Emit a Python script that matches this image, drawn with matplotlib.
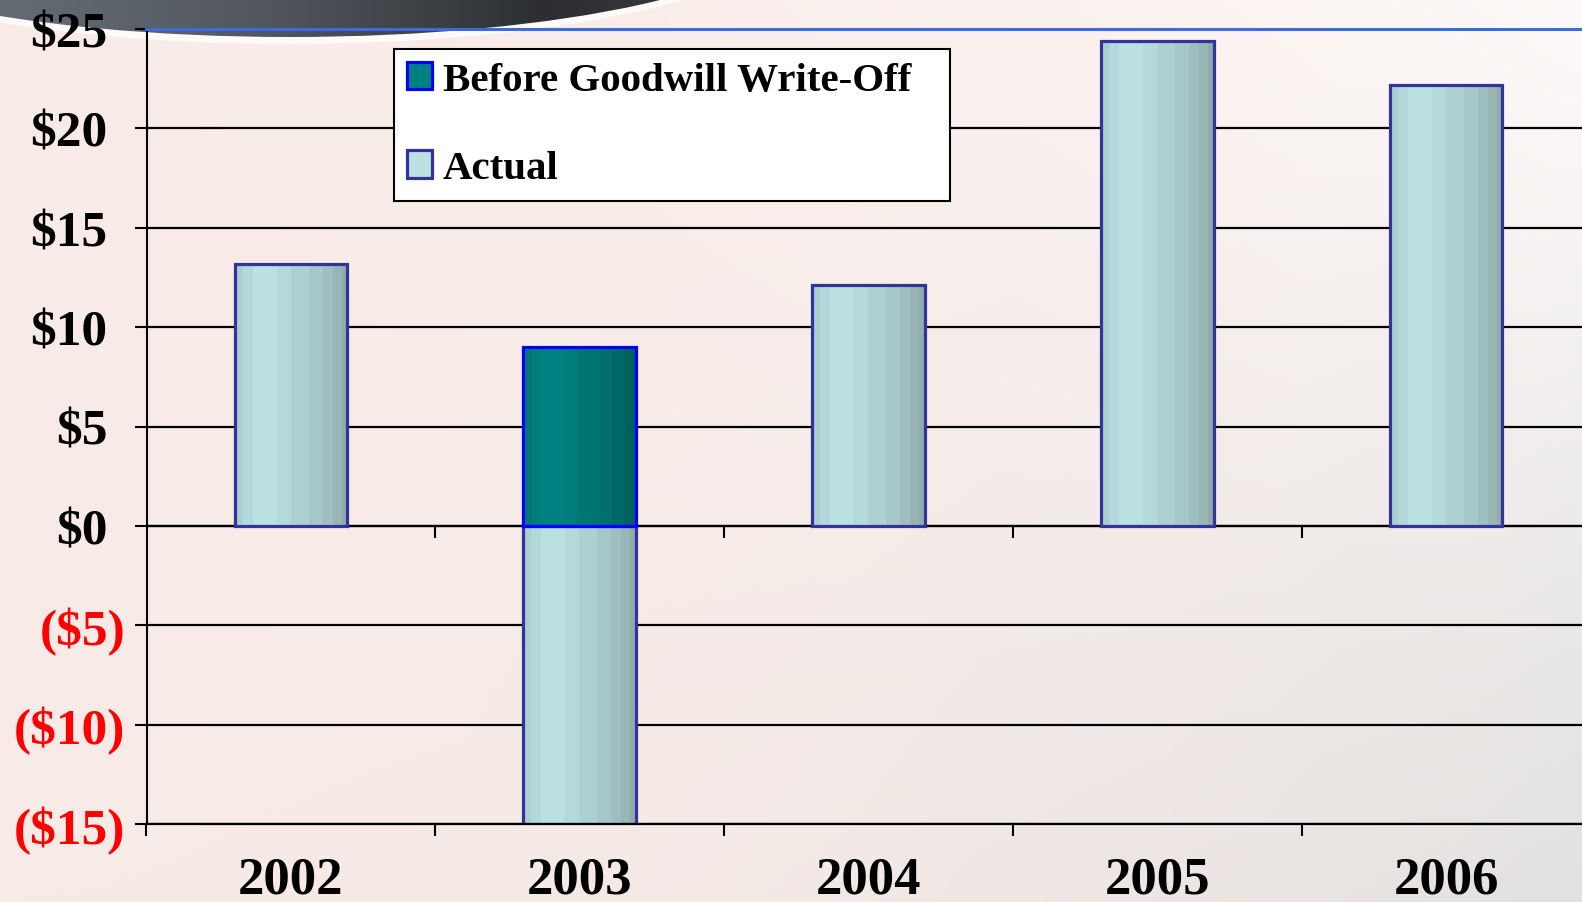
import numpy as np
import matplotlib
matplotlib.use("Agg")
import matplotlib.pyplot as plt
from matplotlib.patches import Ellipse, Patch
from matplotlib.colors import to_rgb
from matplotlib.font_manager import FontProperties
from matplotlib.transforms import ScaledTranslation

# ---------------- data ----------------
years = ["2002", "2003", "2004", "2005", "2006"]
actual = [13.2, -15.0, 12.1, 24.4, 22.2]
before_years = ["2003"]
before_values = [9.0]
y_ticks = [-15, -10, -5, 0, 5, 10, 15, 20, 25]
y_tick_labels = ["($15)", "($10)", "($5)", "$0", "$5", "$10", "$15", "$20", "$25"]
series_labels = ["Before Goodwill Write-Off", "Actual"]

# ---------------- style ----------------
W, H = 1582, 903
SERIF = "Liberation Serif"
actual_stripes = ["#AACFD1", "#B2D8DA", "#BBE0E2", "#B4D9DB", "#ADD0D2",
                  "#A6C7C9", "#9FBEC0", "#98B5B6", "#90ACAD"]
actual_widths = [8, 10, 24, 14, 18, 14, 10, 9, 6]
teal_stripes = ["#007775", "#007C7A", "#008080", "#007C7A", "#007674",
                "#006F6D", "#006866", "#00605E"]
teal_widths = [9, 8, 25, 13, 20, 13, 12, 12]


def stripe_img(colors, widths):
    cols = np.array([to_rgb(c) for c in colors])
    return np.repeat(cols, widths, axis=0)[np.newaxis, :, :]


fig = plt.figure(figsize=(W / 100, H / 100), dpi=100)

# ---------------- background ----------------
bg = fig.add_axes([0, 0, 1, 1], zorder=-10)
ny, nx = 120, 200
u = np.linspace(0, 1, nx)[np.newaxis, :, np.newaxis] ** 2.2
v = np.linspace(0, 1, ny)[:, np.newaxis, np.newaxis]
tl, tr = np.array(to_rgb("#F9ECE8")), np.array(to_rgb("#FDFAF9"))
bl, br = np.array(to_rgb("#F8EBE7")), np.array(to_rgb("#E2E1E0"))
grad = (1 - v) * ((1 - u) * tl + u * tr) + v * ((1 - u) * bl + u * br)
bg.imshow(grad, extent=(0, W, H, 0), aspect="auto", interpolation="bilinear",
          zorder=0)

# dark swoosh at top-left
glow = Ellipse((290, -75), 1014, 240, facecolor="white", alpha=0.75,
               edgecolor="none", zorder=1)
bg.add_patch(glow)
dark = Ellipse((290, -75), 1000, 226, facecolor="none", edgecolor="none",
               zorder=1)
bg.add_patch(dark)
sw_cols = np.array([to_rgb(c) for c in
                    ["#646B73", "#5B6269", "#51565C", "#404449", "#2C2E31", "#36383C"]])
xs = np.linspace(0, 1, 300)
pos = np.linspace(0, 1, len(sw_cols))
sw = np.stack([np.interp(xs, pos, sw_cols[:, k]) for k in range(3)], axis=-1)
sw_img = bg.imshow(sw[np.newaxis, :, :], extent=(0, 680, 60, -10),
                   aspect="auto", interpolation="bilinear", zorder=2)
sw_img.set_clip_path(dark)
bg.set_xlim(0, W)
bg.set_ylim(H, 0)
bg.axis("off")

# ---------------- main axes ----------------
left = 146.5 / W
right = 1590.5 / W
bottom = 1 - 825 / H
top = 1 - 30 / H
ax = fig.add_axes([left, bottom, right - left, top - bottom])
ax.set_facecolor("none")

x = np.arange(len(years))
xb = [years.index(y) for y in before_years]
bw = 0.39
act_bars = ax.bar(x, actual, width=bw, facecolor="#BBE0E2", edgecolor="#333399",
                  linewidth=2.3, zorder=2)
bef_bars = ax.bar(xb, before_values, width=bw, facecolor="#008080",
                  edgecolor="#0000FF", linewidth=2.3, zorder=2)

for bars, img in ((act_bars, stripe_img(actual_stripes, actual_widths)),
                  (bef_bars, stripe_img(teal_stripes, teal_widths))):
    for p in bars.patches:
        x0, w = p.get_x(), p.get_width()
        y0, h = p.get_y(), p.get_height()
        im = ax.imshow(img, extent=(x0, x0 + w, min(y0, y0 + h), max(y0, y0 + h)),
                       aspect="auto", interpolation="nearest", zorder=2.1)
        im.set_clip_path(p)
        p.set_facecolor("none")
        p.set_zorder(2.2)

# grid and zero line
ax.set_yticks(y_ticks)
ax.yaxis.grid(True, color="black", linewidth=1.6)
ax.set_axisbelow(True)
ax.axhline(0, color="black", linewidth=1.6, zorder=0.6)
ax.vlines(np.arange(len(years) - 1) + 0.5, -0.6, 0, color="black",
          linewidth=1.5, zorder=0.6)

ax.set_xlim(-0.5, len(years) - 0.5)
ax.set_ylim(-15, 25)

# spines
ax.spines["right"].set_visible(False)
ax.spines["left"].set_color("black")
ax.spines["left"].set_linewidth(1.5)
ax.spines["bottom"].set_color("black")
ax.spines["bottom"].set_linewidth(1.6)
ax.spines["top"].set_color("#3C6BE0")
ax.spines["top"].set_linewidth(2.2)

# y tick labels (positive values keep room for the closing parenthesis)
ax.set_yticklabels([])
ax.tick_params(axis="y", direction="out", length=8.6, width=1.5)
for val, lab in zip(y_ticks, y_tick_labels):
    off_px = 21.5 if val < 0 else 39.0
    tr = ax.get_yaxis_transform() + ScaledTranslation(-off_px / 100, 0,
                                                     fig.dpi_scale_trans)
    ax.text(0, val, lab, transform=tr, ha="right", va="center_baseline",
            fontsize=37, fontweight="bold", family=SERIF,
            color="#FF0000" if val < 0 else "black", clip_on=False)

ax.set_xticks(x)
ax.set_xticklabels(years, fontsize=38, fontweight="bold", family=SERIF)
ax.set_xticks(np.arange(len(years) + 1) - 0.5, minor=True)
ax.tick_params(axis="x", which="major", length=0, pad=22.5)
ax.tick_params(axis="x", which="minor", direction="out", length=8.6, width=1.5)

# legend
handles = [Patch(facecolor="#008080", edgecolor="#0000FF", linewidth=2.3),
           Patch(facecolor="#BBE0E2", edgecolor="#333399", linewidth=2.3)]
leg = fig.legend(handles, series_labels, loc="upper left",
                 bbox_to_anchor=(394 / W, 1 - 200 / H, 556 / W, 150 / H),
                 mode="expand", borderaxespad=0,
                 prop=FontProperties(family=SERIF, weight="bold", size=29.5),
                 frameon=True, fancybox=False, framealpha=1,
                 handlelength=0.6, handleheight=0.65, handletextpad=0.27,
                 borderpad=0.32, labelspacing=1.25)
leg.get_frame().set_edgecolor("black")
leg.get_frame().set_linewidth(1.5)

fig.savefig("out.png", dpi=100)
